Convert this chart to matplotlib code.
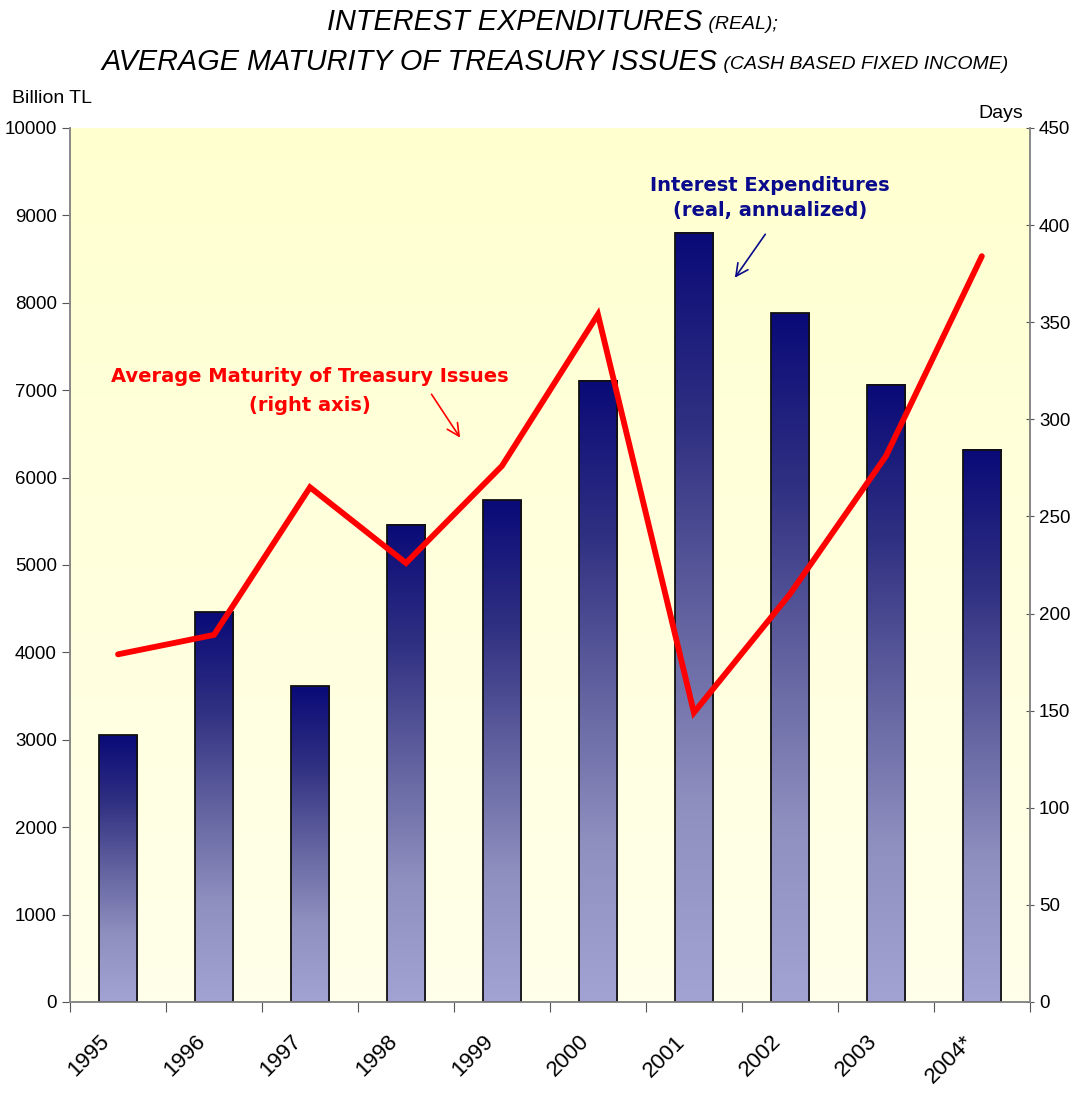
import numpy as np
import matplotlib.pyplot as plt
from matplotlib import font_manager
from matplotlib.colors import LinearSegmentedColormap

years = ['1995', '1996', '1997', '1998', '1999', '2000', '2001', '2002', '2003', '2004*']
interest_exp = [3050, 4460, 3610, 5460, 5740, 7110, 8800, 7880, 7060, 6320]  # billion TL
avg_maturity = [179, 189, 265, 226, 276, 354, 149, 210, 281, 384]  # days

plt.rcParams['font.family'] = ['Liberation Sans', 'DejaVu Sans']


def narrow_font():
    # a condensed face if one is installed, else plain Liberation Sans at smaller size
    for name in ['Liberation Sans Narrow', 'DejaVu Sans Condensed']:
        try:
            font_manager.findfont(font_manager.FontProperties(family=name),
                                  fallback_to_default=False)
            return name, 25
        except Exception:
            pass
    return 'Liberation Sans', 20.8


title_family, title_size = narrow_font()

fig = plt.figure(figsize=(10.76, 10.93), dpi=100)
ax = fig.add_axes([0.0651, 0.0833, 0.892, 0.7996])
ax2 = ax.twinx()

n = len(years)

# background gradient of the plot area
bg = LinearSegmentedColormap.from_list('bg', ['#FFFFEA', '#FFFFD0'])
ax.imshow(np.linspace(0, 1, 256).reshape(-1, 1), cmap=bg, origin='lower',
          extent=[-0.5, n - 0.5, 0, 10000], aspect='auto', zorder=0)

# bars with vertical gradient
bar_cmap = LinearSegmentedColormap.from_list(
    'bar', [(0, '#A3A3D3'), (0.25, '#9090C0'), (0.5, '#6262A0'),
            (0.75, '#303082'), (1.0, '#0A0A78')])
w = 0.4
for i, v in enumerate(interest_exp):
    ax.imshow(np.linspace(0, 1, 256).reshape(-1, 1), cmap=bar_cmap, origin='lower',
              extent=[i - w / 2, i + w / 2, 0, v], aspect='auto', zorder=2)
    ax.bar(i, v, width=w, facecolor='none', edgecolor='#111111', linewidth=1.3, zorder=3)

ax.set_xlim(-0.5, n - 0.5)
ax.set_ylim(0, 10000)
ax2.set_ylim(0, 450)

# line on the right axis
ax2.plot(range(n), avg_maturity, color='#FF0000', linewidth=4.2, solid_joinstyle='miter',
         solid_capstyle='round', zorder=5)
ax.set_zorder(1)
ax2.set_zorder(2)
ax2.patch.set_visible(False)

# axes and ticks
ax.set_yticks(np.arange(0, 10001, 1000))
ax2.set_yticks(np.arange(0, 451, 50))
ax.set_xticks(np.arange(-0.5, n, 1.0))
ax.set_xticklabels([])
# labels sit a little left of the category centre, as in the original
ax.set_xticks(np.arange(n) - 0.2, minor=True)
ax.set_xticklabels(years, minor=True, rotation=45, ha='right', va='top',
                   rotation_mode='anchor', fontsize=16)
ax.tick_params(axis='x', which='minor', length=0, pad=21)
ax.tick_params(axis='x', which='major', length=7, direction='out', color='#555555')
ax.tick_params(axis='y', labelsize=13.5, length=6, direction='out', color='#555555')
ax2.tick_params(axis='y', labelsize=13.5, length=6, direction='inout', color='#555555')
for a in (ax, ax2):
    a.spines['top'].set_visible(False)
    for s in ('left', 'right', 'bottom'):
        a.spines[s].set_color('#888888')
        a.spines[s].set_linewidth(1.2)

# titles
fig.text(0.653, 0.980, 'INTEREST EXPENDITURES', fontsize=title_size, style='italic',
         family=title_family, ha='right', va='center')
fig.text(0.653, 0.978, ' (REAL);', fontsize=14, style='italic', family='Liberation Sans',
         ha='left', va='center')
fig.text(0.667, 0.943, 'AVERAGE MATURITY OF TREASURY ISSUES', fontsize=title_size,
         style='italic', family=title_family, ha='right', va='center')
fig.text(0.667, 0.941, ' (CASH BASED FIXED INCOME)', fontsize=14, style='italic',
         family='Liberation Sans', ha='left', va='center')
fig.text(0.011, 0.910, 'Billion TL', fontsize=14, ha='left', va='center')
fig.text(0.951, 0.896, 'Days', fontsize=14, ha='right', va='center')

# annotations
ax.text(2.0, 6990, 'Average Maturity of Treasury Issues\n(right axis)', color='#FF0000',
        fontsize=14, fontweight='bold', family=['DejaVu Sans'], ha='center', va='center',
        linespacing=1.7, zorder=6)
ax.annotate('', xy=(3.58, 6430), xytext=(3.25, 6980),
            arrowprops=dict(arrowstyle='->', color='#FF0000', lw=1.2, mutation_scale=22), zorder=6)
ax.text(6.79, 9200, 'Interest Expenditures\n(real, annualized)', color='#0A0A8C',
        fontsize=14, fontweight='bold', family=['DejaVu Sans'], ha='center', va='center',
        linespacing=1.45, zorder=6)
ax.annotate('', xy=(6.41, 8260), xytext=(6.76, 8810),
            arrowprops=dict(arrowstyle='->', color='#0A0A8C', lw=1.2, mutation_scale=22), zorder=6)

fig.savefig('out.png', dpi=100)
